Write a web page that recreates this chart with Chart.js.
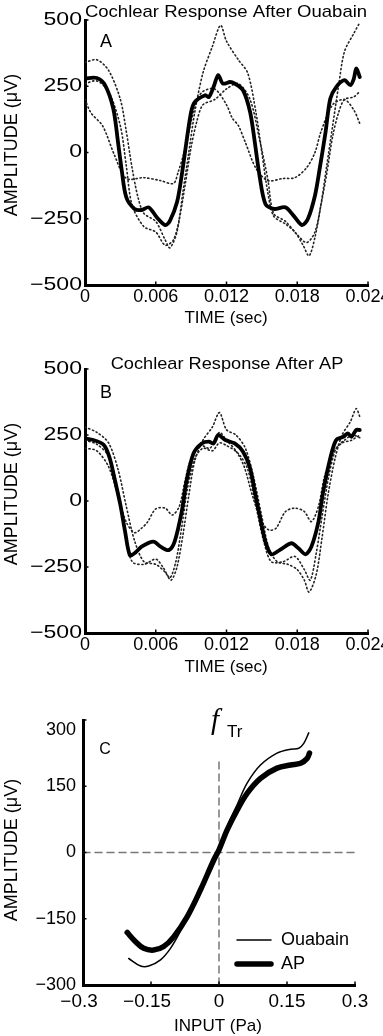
<!DOCTYPE html>
<html>
<head>
<meta charset="utf-8">
<script src="https://cdn.jsdelivr.net/npm/chart.js@4.4.1/dist/chart.umd.min.js"></script>
<style>
  html, body { margin: 0; padding: 0; background: #fff; }
  body { width: 383px; height: 1036px; position: relative; overflow: hidden; }
  canvas { position: absolute; left: 0; }
</style>
</head>
<body>
<canvas id="cA" width="383" height="335" style="top:0px"></canvas>
<canvas id="cB" width="383" height="350" style="top:335px"></canvas>
<canvas id="cC" width="383" height="351" style="top:685px"></canvas>
<script>
// ---------- Panel A : Cochlear Response After Ouabain ----------
const aTitle = "Cochlear Response After Ouabain";
const aMeanT = [0,0.001,0.0017,0.0024,0.0028,0.0031,0.0035,0.0042,0.0048,0.0054,0.0061,0.0068,0.0072,0.0078,0.0082,0.0086,0.0090,0.0093,0.0102,0.0105,0.0109,0.0113,0.0117,0.0123,0.0127,0.0134,0.0140,0.0144,0.0148,0.0153,0.0160,0.0170,0.0177,0.0184,0.0189,0.0195,0.0199,0.0204,0.0208,0.0213,0.0220,0.0225,0.0228,0.0230,0.0233];
const aMeanV = [279,281,254,165,39,-62,-169,-213,-217,-207,-245,-274,-258,-188,-87,39,153,190,216,209,247,292,260,266,260,235,153,39,-87,-194,-213,-207,-239,-274,-251,-163,-62,77,203,247,273,254,279,317,285];
const aHiT = [0,0.001,0.002,0.003,0.0035,0.004,0.0045,0.005,0.006,0.0068,0.0072,0.0078,0.0083,0.0088,0.0093,0.010,0.0108,0.0115,0.012,0.013,0.0138,0.0145,0.015,0.0155,0.016,0.017,0.0178,0.0185,0.019,0.0195,0.020,0.0205,0.021,0.0215,0.022,0.0228,0.0233];
const aHiV = [340,350,310,200,80,-60,-170,-230,-260,-330,-360,-300,-150,0,150,300,400,480,420,350,300,150,0,-150,-240,-270,-300,-350,-390,-320,-200,-50,100,250,380,450,490];
const aShT = [0,0.0005,0.0015,0.0025,0.0035,0.005,0.0064,0.0075,0.0079,0.0085,0.009,0.0094,0.010,0.011,0.012,0.0125,0.013,0.0136,0.0145,0.0155,0.0168,0.0178,0.0188,0.0195,0.020,0.021,0.022,0.0228,0.0233];
const aShV = [200,150,100,-10,-98,-95,-106,-117,-74,15,116,190,230,240,180,129,102,38,-60,-106,-98,-95,-57,0,77,180,200,160,110];
const aLoT = [0,0.001,0.002,0.003,0.0035,0.004,0.005,0.006,0.0068,0.0075,0.008,0.0085,0.009,0.0095,0.010,0.011,0.012,0.013,0.014,0.0148,0.0155,0.016,0.017,0.018,0.0188,0.0195,0.020,0.0205,0.021,0.0215,0.022,0.0228,0.0233];
const aLoV = [260,270,230,100,-50,-200,-280,-300,-350,-330,-250,-120,20,120,180,200,240,260,200,50,-100,-230,-260,-310,-340,-300,-200,-80,60,150,200,210,230];

// ---------- Panel B : Cochlear Response After AP ----------
const bTitle = "Cochlear Response After AP";
const bMeanT = [0,0.0007,0.0016,0.0021,0.0025,0.0030,0.0034,0.0038,0.0042,0.0048,0.0058,0.0064,0.0071,0.0076,0.0082,0.0086,0.0092,0.0099,0.0105,0.0109,0.0113,0.0119,0.0127,0.0134,0.0140,0.0144,0.0148,0.0153,0.0158,0.0165,0.0175,0.0181,0.0187,0.0192,0.0198,0.0202,0.0208,0.0213,0.0219,0.0223,0.0226,0.0230,0.0233];
const bMeanV = [237,231,212,162,86,-15,-116,-205,-198,-173,-154,-173,-186,-154,-41,73,180,218,225,218,250,231,218,187,124,35,-53,-154,-202,-186,-160,-179,-202,-173,-78,35,162,231,243,256,243,269,269];
const bHiT = [0,0.001,0.002,0.0028,0.0035,0.0042,0.005,0.006,0.0068,0.0073,0.0078,0.0083,0.0088,0.0093,0.010,0.0108,0.0114,0.012,0.0128,0.0136,0.0143,0.015,0.0156,0.0163,0.0172,0.018,0.0186,0.019,0.0196,0.0201,0.0206,0.0212,0.0218,0.0225,0.023,0.0233];
const bHiV = [280,260,220,120,-20,-150,-230,-240,-270,-300,-250,-130,20,150,230,280,335,270,250,200,90,-60,-180,-230,-240,-260,-300,-345,-280,-140,20,160,250,300,350,320];
const bShT = [0,0.001,0.002,0.0028,0.0035,0.0042,0.0048,0.0053,0.006,0.0068,0.0074,0.008,0.0085,0.009,0.0098,0.0106,0.0114,0.012,0.0128,0.0135,0.0142,0.015,0.0156,0.0162,0.017,0.0178,0.0186,0.0192,0.0198,0.0203,0.021,0.0218,0.0226,0.0233];
const bShV = [200,190,130,20,-80,-120,-103,-80,-30,-27,-53,-20,80,160,210,200,260,230,190,130,20,-80,-110,-103,-40,-27,-40,-78,-20,90,180,220,230,250];
const bLoT = [0,0.001,0.002,0.0028,0.0034,0.004,0.005,0.006,0.0066,0.0072,0.0077,0.0082,0.0087,0.0093,0.010,0.0108,0.0114,0.012,0.013,0.0138,0.0145,0.0152,0.0158,0.0168,0.0178,0.0186,0.0191,0.0196,0.0201,0.0207,0.0213,0.022,0.0227,0.0233];
const bLoV = [230,215,170,40,-120,-230,-240,-220,-250,-290,-230,-100,50,160,200,190,220,210,180,120,-20,-160,-230,-230,-210,-260,-300,-200,-60,100,200,230,250,240];

// shared time axis ticks
const timeTicks = [0, 0.006, 0.012, 0.018, 0.024];
const ampTicks = [-500, -250, 0, 250, 500];

// ---------- Panel C : transfer functions ----------
const cApX = [-0.2025,-0.184,-0.166,-0.144,-0.122,-0.100,-0.070,-0.041,-0.0115,0,0.018,0.040,0.062,0.0915,0.128,0.158,0.180,0.1945,0.1996];
const cApV = [-181,-202,-217,-221,-213,-191,-145,-85,-17,6,51,96,134,168,191,198,202,213,225];
const cOuX = [-0.199,-0.173,-0.155,-0.129,-0.107,-0.085,-0.060,-0.030,0,0.018,0.040,0.062,0.0915,0.128,0.158,0.176,0.187,0.198];
const cOuV = [-240,-257,-257,-243,-217,-178,-125,-60,5,58,108,157,198,225,234,236,247,271];
const inputTicks = [-0.3, -0.15, 0, 0.15, 0.3];
const cAmpTicks = [-300, -150, 0, 150, 300];
const cLegend = ["Ouabain", "AP"];

// ---------------------------------------------------------------
const FONT = "'Liberation Sans', Arial, Helvetica, sans-serif";
const pts = (xs, ys) => xs.map((x, i) => ({x: x, y: ys[i]}));
const minus = s => String(s).replace('-', '\u2212');
const timeFmt = v => (v === 0 ? '0' : String(+v.toFixed(3)));
const ampFmt = v => minus(v);
const inFmt = v => (v === 0 ? '0' : minus(+v.toFixed(2)));

function sText(ctx, s, x, y, sx, align) {
  ctx.save();
  ctx.translate(x, y);
  ctx.scale(sx, 1);
  ctx.textAlign = align;
  ctx.fillText(s, 0, 0);
  ctx.restore();
}

function axisDecor(chart, cfg) {
  const ctx = chart.ctx;
  const a = chart.chartArea;
  const xs = chart.scales.x, ys = chart.scales.y;
  ctx.save();
  // inward tick marks
  ctx.strokeStyle = '#000';
  ctx.lineWidth = 1.5;
  xs.ticks.forEach(t => {
    const p = xs.getPixelForValue(t.value);
    ctx.beginPath(); ctx.moveTo(p, a.bottom); ctx.lineTo(p, a.bottom - 3.5); ctx.stroke();
  });
  ys.ticks.forEach(t => {
    const p = ys.getPixelForValue(t.value);
    ctx.beginPath(); ctx.moveTo(a.left, p); ctx.lineTo(a.left + 3.5, p); ctx.stroke();
  });
  // tick labels at the scale positions
  ctx.fillStyle = '#000';
  ctx.textBaseline = 'middle';
  ctx.font = cfg.xtSize + 'px ' + FONT;
  xs.ticks.forEach(t => {
    const p = xs.getPixelForValue(t.value);
    sText(ctx, cfg.xFmt(t.value), p + (t.value < 0 ? cfg.negShift : 0), a.bottom + cfg.xtDy, cfg.xtSx, 'center');
  });
  ctx.font = cfg.ytSize + 'px ' + FONT;
  const topVal = ys.max;
  ys.ticks.forEach(t => {
    const p = ys.getPixelForValue(t.value) + (t.value === topVal ? cfg.topShift : 0);
    sText(ctx, cfg.yFmt(t.value), a.left - cfg.ytGap, p, cfg.ytSx, 'right');
  });
  ctx.restore();
}

function decorPlugin(cfg) {
  return {
    id: 'decor',
    afterDraw(chart) {
      axisDecor(chart, cfg);
      const ctx = chart.ctx;
      const a = chart.chartArea;
      ctx.save();
      ctx.fillStyle = '#000';
      ctx.textBaseline = 'middle';
      if (cfg.title) {
        ctx.font = '17px ' + FONT;
        sText(ctx, cfg.title, cfg.titleX, a.top + cfg.titleDy, cfg.titleSx, 'center');
      }
      ctx.font = cfg.letterFont;
      sText(ctx, cfg.letter, a.left + cfg.letterDx, a.top + cfg.letterDy, 1, 'center');
      ctx.font = '17px ' + FONT;
      sText(ctx, cfg.xTitle, cfg.xTitleX, a.bottom + cfg.xTitleDy, 1, 'center');
      ctx.save();
      ctx.translate(12, cfg.yTitleY);
      ctx.rotate(-Math.PI / 2);
      ctx.font = '18px ' + FONT;
      ctx.textAlign = 'center';
      ctx.fillText('AMPLITUDE (\u03BCV)', 0, 0);
      ctx.restore();
      if (cfg.extra) cfg.extra(chart, ctx);
      ctx.restore();
    }
  };
}

function axisOpts(min, max, ticksArr, fixedSize, isX) {
  return {
    type: 'linear',
    min: min, max: max,
    afterBuildTicks: s => { s.ticks = ticksArr.map(v => ({value: v})); },
    afterFit: s => {
      if (isX) s.height = fixedSize; else s.width = fixedSize;
      s.paddingLeft = 0; s.paddingRight = 0; s.paddingTop = 0; s.paddingBottom = 0;
    },
    grid: { display: false, drawTicks: false },
    border: { display: true, color: '#000', width: 3 },
    ticks: { display: false }
  };
}

function waveDatasets(meanT, meanV, traces) {
  const ds = [{
    data: pts(meanT, meanV), borderColor: '#000', borderWidth: 3.8,
    pointRadius: 0, tension: 0.3, fill: false
  }];
  traces.forEach(tr => ds.push({
    data: pts(tr[0], tr[1]), borderColor: '#222', borderWidth: 1.6,
    borderDash: [1.2, 2.8], pointRadius: 0, tension: 0.3, fill: false
  }));
  return ds;
}

function baseOptions(pad, xAxis, yAxis) {
  return {
    responsive: false, animation: false, devicePixelRatio: 1,
    layout: { padding: pad },
    plugins: { legend: { display: false }, tooltip: { enabled: false }, title: { display: false } },
    scales: { x: xAxis, y: yAxis },
    elements: { line: { borderCapStyle: 'round', borderJoinStyle: 'round' } }
  };
}

const abTicks = { xFmt: timeFmt, yFmt: ampFmt, xtSize: 18, xtSx: 1.0, xtDy: 12, negShift: 0,
  ytSize: 18, ytSx: 1.28, ytGap: 3, topShift: 0 };

// Panel A
new Chart(document.getElementById('cA'), {
  type: 'line',
  data: { datasets: waveDatasets(aMeanT, aMeanV, [[aHiT, aHiV], [aShT, aShV], [aLoT, aLoV]]) },
  options: baseOptions({left: 0, right: 15, top: 20, bottom: 0},
    axisOpts(0, 0.024, timeTicks, 50, true),
    axisOpts(-500, 500, ampTicks, 85, false)),
  plugins: [decorPlugin(Object.assign({}, abTicks, {
    title: aTitle, titleX: 226, titleDy: -8, titleSx: 1.09,
    letter: 'A', letterFont: '18px ' + FONT, letterDx: 21, letterDy: 22,
    xTitle: 'TIME (sec)', xTitleX: 226, xTitleDy: 33, yTitleY: 145}))]
});

// Panel B
new Chart(document.getElementById('cB'), {
  type: 'line',
  data: { datasets: waveDatasets(bMeanT, bMeanV, [[bHiT, bHiV], [bShT, bShV], [bLoT, bLoV]]) },
  options: baseOptions({left: 0, right: 15, top: 34, bottom: 0},
    axisOpts(0, 0.024, timeTicks, 52, true),
    axisOpts(-500, 500, ampTicks, 85, false)),
  plugins: [decorPlugin(Object.assign({}, abTicks, {
    title: bTitle, titleX: 227, titleDy: -5, titleSx: 1.07,
    letter: 'B', letterFont: '18px ' + FONT, letterDx: 21, letterDy: 24,
    xTitle: 'TIME (sec)', xTitleX: 226, xTitleDy: 34, yTitleY: 159}))]
});

// Panel C
new Chart(document.getElementById('cC'), {
  type: 'line',
  data: { datasets: [
    { data: pts(cOuX, cOuV), borderColor: '#000', borderWidth: 1.5, pointRadius: 0, tension: 0.35, fill: false },
    { data: pts(cApX, cApV), borderColor: '#000', borderWidth: 5.5, pointRadius: 0, tension: 0.35, fill: false },
    { data: pts([-0.3, 0.3], [0, 0]), borderColor: '#777', borderWidth: 1.5, borderDash: [7, 5], pointRadius: 0 },
    { data: pts([0, 0], [-300, 215]), borderColor: '#777', borderWidth: 1.5, borderDash: [7, 5], pointRadius: 0 }
  ] },
  options: baseOptions({left: 0, right: 28, top: 35, bottom: 0},
    axisOpts(-0.3, 0.3, inputTicks, 51, true),
    axisOpts(-300, 300, cAmpTicks, 83, false)),
  plugins: [decorPlugin({
    xFmt: inFmt, yFmt: ampFmt, xtSize: 18, xtSx: 1.05, xtDy: 17, negShift: -4,
    ytSize: 18, ytSx: 1.0, ytGap: 7, topShift: 10,
    letter: 'C', letterFont: '16px ' + FONT, letterDx: 22, letterDy: 30,
    xTitle: 'INPUT (Pa)', xTitleX: 218, xTitleDy: 41, yTitleY: 165,
    extra: (chart, ctx) => {
      const a = chart.chartArea;
      ctx.textAlign = 'left';
      ctx.textBaseline = 'alphabetic';
      ctx.font = 'italic 29px "Liberation Serif", serif';
      ctx.fillText('f', 211, a.top + 9);
      ctx.font = '17px ' + FONT;
      ctx.fillText('Tr', 227, a.top + 17);
      const y1 = a.top + 220, y2 = a.top + 244;
      ctx.strokeStyle = '#000';
      ctx.lineCap = 'round';
      ctx.lineWidth = 1.5;
      ctx.beginPath(); ctx.moveTo(237, y1); ctx.lineTo(271, y1); ctx.stroke();
      ctx.lineWidth = 5.5;
      ctx.beginPath(); ctx.moveTo(237, y2); ctx.lineTo(271, y2); ctx.stroke();
      ctx.font = '18px ' + FONT;
      ctx.textBaseline = 'middle';
      ctx.fillText(cLegend[0], 281, y1);
      ctx.fillText(cLegend[1], 281, y2);
    }})]
});
</script>
</body>
</html>
